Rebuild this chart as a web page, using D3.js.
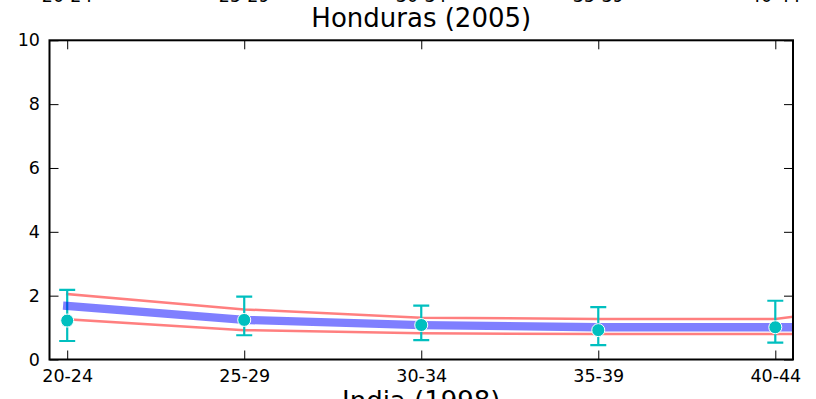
<!DOCTYPE html>
<html>
<head>
<meta charset="utf-8">
<script src="https://cdn.jsdelivr.net/npm/d3@7"></script>
<style>
  body { margin: 0; background: #fff; }
  svg { display: block; font-family: "DejaVu Sans", sans-serif; }
</style>
</head>
<body>
<div id="chart"></div>
<script>
// age groups on the x axis
const ageGroups = ["20-24", "25-29", "30-34", "35-39", "40-44"];

// observed values with error bars
const observed = [1.22, 1.24, 1.08, 0.92, 1.01];
const errLow = [0.58, 0.76, 0.61, 0.45, 0.53];
const errHigh = [2.18, 1.97, 1.69, 1.64, 1.84];

// fitted curve and its band (index position along the age axis)
const fitX = [0, 1, 2, 3, 4, 4.1];
const fitMean = [1.68, 1.24, 1.08, 1.01, 1.01, 1.01];
const fitUpper = [2.05, 1.57, 1.31, 1.27, 1.27, 1.34];
const fitLower = [1.26, 0.92, 0.82, 0.80, 0.80, 0.80];

const yTicks = [0, 2, 4, 6, 8, 10];
const title = "Honduras (2005)";
const nextTitle = "India (1998)";

const w = 816;
const h = 399;
const margin = {left: 49.5, right: 23, top: 40.3, bottom: 39.5};

const svg = d3.select("#chart").append("svg")
    .attr("width", w)
    .attr("height", h);

const x = d3.scaleLinear()
    .domain([-0.1, 4.1])
    .range([margin.left, w - margin.right]);

const y = d3.scaleLinear()
    .domain([0, 10])
    .range([h - margin.bottom, margin.top]);

svg.append("clipPath").attr("id", "plotclip")
  .append("rect")
    .attr("x", x.range()[0])
    .attr("y", y.range()[1])
    .attr("width", x.range()[1] - x.range()[0])
    .attr("height", y.range()[0] - y.range()[1]);

const plot = svg.append("g").attr("clip-path", "url(#plotclip)");

const line = (vals) => d3.line()
    .x((d, i) => x(fitX[i]))
    .y((d) => y(d))(vals);

// band lines
[fitUpper, fitLower].forEach((vals) => {
  plot.append("path")
      .attr("d", line(vals))
      .attr("fill", "none")
      .attr("stroke", "#ff0000")
      .attr("stroke-opacity", 0.5)
      .attr("stroke-width", 2.5)
      .attr("stroke-linecap", "square");
});

// error bars
const bars = plot.selectAll("g.err")
    .data(ageGroups)
    .enter()
    .append("g")
    .attr("class", "err")
    .attr("stroke", "#00bfbf")
    .attr("stroke-width", 2.2);

bars.append("line")
    .attr("x1", (d, i) => x(i))
    .attr("x2", (d, i) => x(i))
    .attr("y1", (d, i) => y(errLow[i]))
    .attr("y2", (d, i) => y(errHigh[i]));

bars.append("line")
    .attr("x1", (d, i) => x(i) - 8)
    .attr("x2", (d, i) => x(i) + 8)
    .attr("y1", (d, i) => y(errLow[i]))
    .attr("y2", (d, i) => y(errLow[i]));

bars.append("line")
    .attr("x1", (d, i) => x(i) - 8)
    .attr("x2", (d, i) => x(i) + 8)
    .attr("y1", (d, i) => y(errHigh[i]))
    .attr("y2", (d, i) => y(errHigh[i]));

// fitted mean
plot.append("path")
    .attr("d", line(fitMean))
    .attr("fill", "none")
    .attr("stroke", "#0000ff")
    .attr("stroke-opacity", 0.5)
    .attr("stroke-width", 8.3)
    .attr("stroke-linecap", "square");

// observed points
plot.selectAll("circle")
    .data(observed)
    .enter()
    .append("circle")
    .attr("cx", (d, i) => x(i))
    .attr("cy", (d) => y(d))
    .attr("r", 6.5)
    .attr("fill", "#00bfbf")
    .attr("stroke", "#fff")
    .attr("stroke-width", 1);

// axes, ticks pointing inward
const fmt = (i) => ageGroups[i];
const xIdx = d3.range(ageGroups.length);

const styleAxis = (g) => {
  g.select(".domain").remove();
  g.selectAll(".tick line").attr("stroke", "#000").attr("stroke-width", 1);
  g.selectAll(".tick text").attr("fill", "#000").style("font-size", "17.5px")
      .style("font-family", "'DejaVu Sans', sans-serif");
};

svg.append("g")
    .attr("transform", `translate(0,${y.range()[0]})`)
    .call(d3.axisBottom(x).tickValues(xIdx).tickFormat(fmt).tickSize(-9).tickPadding(10.5))
    .call(styleAxis);

svg.append("g")
    .attr("transform", `translate(0,${y.range()[1]})`)
    .call(d3.axisTop(x).tickValues(xIdx).tickFormat("").tickSize(-9))
    .call(styleAxis);

svg.append("g")
    .attr("transform", `translate(${x.range()[0]},0)`)
    .call(d3.axisLeft(y).tickValues(yTicks).tickSize(-9).tickPadding(9.5))
    .call(styleAxis);

svg.append("g")
    .attr("transform", `translate(${x.range()[1]},0)`)
    .call(d3.axisRight(y).tickValues(yTicks).tickFormat("").tickSize(-9))
    .call(styleAxis);

// frame
svg.append("rect")
    .attr("x", x.range()[0])
    .attr("y", y.range()[1])
    .attr("width", x.range()[1] - x.range()[0])
    .attr("height", y.range()[0] - y.range()[1])
    .attr("fill", "none")
    .attr("stroke", "#000")
    .attr("stroke-width", 2);

// title
const midX = (x.range()[0] + x.range()[1]) / 2;
svg.append("text")
    .attr("x", midX)
    .attr("y", 27)
    .attr("text-anchor", "middle")
    .style("font-size", "26px")
    .text(title);

// bits of the neighbouring subplots that show at the edges (cut off as in the source)
svg.selectAll("text.prev")
    .data(ageGroups)
    .enter()
    .append("text")
    .attr("class", "prev")
    .attr("x", (d, i) => x(i))
    .attr("y", 1.5)
    .attr("text-anchor", "middle")
    .style("font-size", "17.5px")
    .text((d) => d);

svg.append("text")
    .attr("x", midX)
    .attr("y", 410)
    .attr("text-anchor", "middle")
    .style("font-size", "26px")
    .text(nextTitle);
</script>
</body>
</html>
